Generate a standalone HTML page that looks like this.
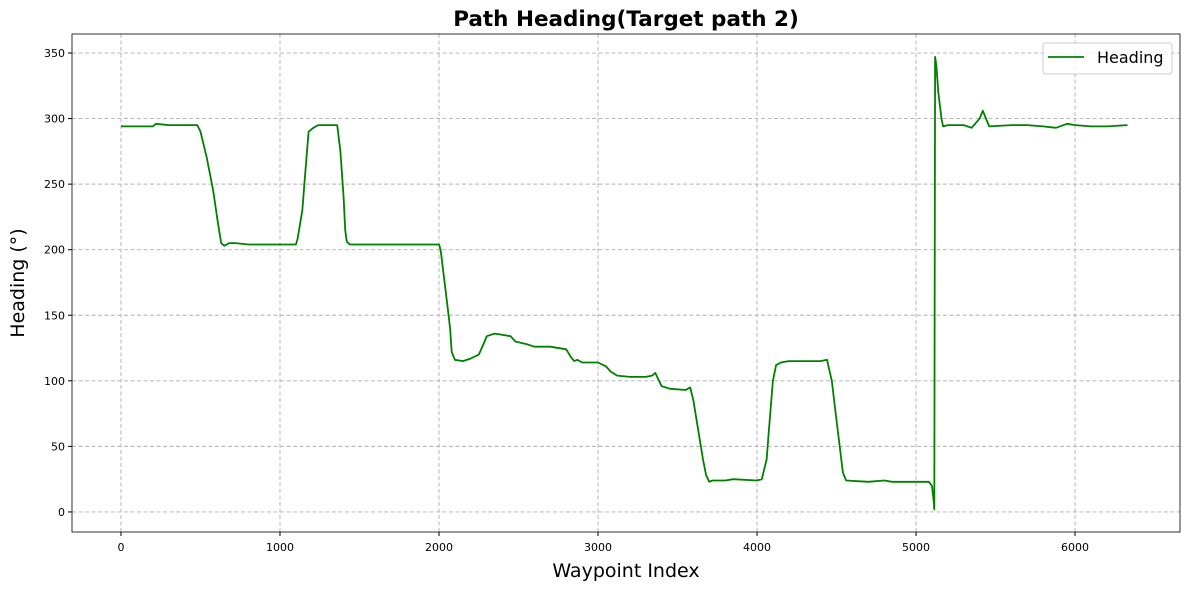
<!DOCTYPE html>
<html><head><meta charset="utf-8"><style>
body{margin:0;background:#fff;font-family:"Liberation Sans","DejaVu Sans",sans-serif}
svg text{font-family:"DejaVu Sans","Liberation Sans",sans-serif}
</style></head><body>
<svg id="chart" width="1189" height="590" xmlns="http://www.w3.org/2000/svg"></svg>
<script>
const xTicks=[0,1000,2000,3000,4000,5000,6000];
const yTicks=[0,50,100,150,200,250,300,350];
const waypointIdx=[0,200,220,300,400,480,500,540,580,610,630,650,680,720,800,1000,1100,1110,1140,1160,1180,1210,1240,1360,1380,1400,1410,1420,1440,1500,1600,1800,1900,2000,2010,2030,2050,2070,2080,2100,2150,2200,2250,2280,2300,2350,2400,2450,2480,2550,2600,2700,2800,2830,2850,2870,2900,3000,3050,3080,3120,3200,3300,3340,3360,3380,3400,3450,3550,3580,3600,3620,3640,3660,3680,3700,3720,3800,3850,4000,4030,4060,4080,4100,4120,4150,4200,4400,4440,4470,4500,4520,4540,4560,4700,4800,4850,5000,5080,5100,5110,5115,5120,5128,5140,5160,5170,5200,5300,5350,5400,5420,5440,5460,5600,5700,5800,5880,5950,6000,6100,6200,6330];
const headingVals=[294,294,296,295,295,295,290,270,245,220,205,203,205,205,204,204,204,208,230,260,290,293,295,295,275,240,215,206,204,204,204,204,204,204,200,180,160,140,122,116,115,117,120,128,134,136,135,134,130,128,126,126,124,118,115,116,114,114,111,107,104,103,103,104,106,101,96,94,93,95,85,70,55,40,28,23,24,24,25,24,25,40,70,100,112,114,115,115,116,100,70,50,30,24,23,24,23,23,23,20,10,2,347,340,320,300,294,295,295,293,300,306,300,294,295,295,294,293,296,295,294,294,295];
const svg=document.getElementById('chart');const NS='http://www.w3.org/2000/svg';
const L=72,R=1180,T=34,B=532;
const xmin=-308,xmax=6660,ymin=-15.3,ymax=364.5;
const sx=v=>L+(v-xmin)/(xmax-xmin)*(R-L);
const sy=v=>B-(v-ymin)/(ymax-ymin)*(B-T);
function mk(t,a,txt){const e=document.createElementNS(NS,t);for(const k in a)e.setAttribute(k,a[k]);if(txt!==undefined)e.textContent=txt;svg.appendChild(e);return e;}
xTicks.forEach(v=>{
 const g=mk('line',{x1:sx(v),x2:sx(v),y1:T,y2:B,stroke:'#b0b0b0','stroke-dasharray':'4,2.5','stroke-width':0.9});
 
 
 mk('line',{x1:sx(v),x2:sx(v),y1:B,y2:B+4,stroke:'#000'});
 const t=mk('text',{x:sx(v),y:B+19,'text-anchor':'middle','font-size':11},String(v));
 
 
});
yTicks.forEach(v=>{
 const g=mk('line',{x1:L,x2:R,y1:sy(v),y2:sy(v),stroke:'#b0b0b0','stroke-dasharray':'4,2.5','stroke-width':0.9});
 
 
 mk('line',{x1:L-4,x2:L,y1:sy(v),y2:sy(v),stroke:'#000'});
 const t=mk('text',{x:L-7,y:sy(v)+4,'text-anchor':'end','font-size':11},String(v));
 
 
});
const fr=mk('rect',{x:L,y:T,width:R-L,height:B-T,fill:'none',stroke:'#000','stroke-width':0.8});


const pts=waypointIdx.map((x,i)=>sx(x).toFixed(1)+','+sy(headingVals[i]).toFixed(1)).join(' ');
const ln=mk('polyline',{points:pts,fill:'none',stroke:'#008000','stroke-width':1.8,'stroke-linejoin':'round'});


const ti=mk('text',{x:(L+R)/2,y:26,'text-anchor':'middle','font-size':21.5,'font-weight':'bold'},'Path Heading(Target path 2)');


const xl=mk('text',{x:(L+R)/2,y:577,'text-anchor':'middle','font-size':19},'Waypoint Index');


const yl=mk('text',{x:24,y:(T+B)/2,'text-anchor':'middle','font-size':19,transform:'rotate(-90 24 '+((T+B)/2)+')'},'Heading (°)');


const lg=mk('rect',{x:1043,y:43,width:129,height:31,rx:3,fill:'#fff','fill-opacity':0.8,stroke:'#ccc'});


mk('line',{x1:1048,x2:1084,y1:57,y2:57,stroke:'#008000','stroke-width':1.8});
const le=mk('text',{x:1097,y:63,'font-size':16},'Heading');


</script>
</body></html>
